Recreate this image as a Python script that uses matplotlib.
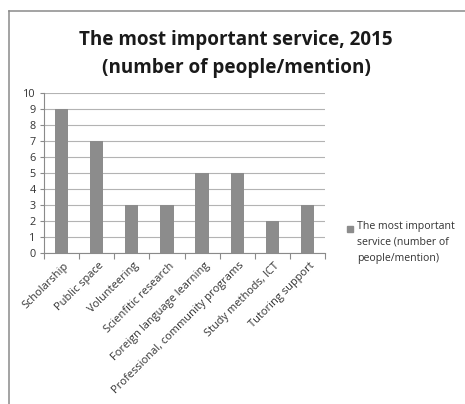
import numpy as np
import matplotlib.pyplot as plt
from matplotlib.lines import Line2D
from matplotlib.patches import Rectangle

# data
categories = ['Scholarship', 'Public space', 'Volunteering', 'Scienfitic research',
              'Foreign language learning', 'Professional, community programs',
              'Study methods, ICT', 'Tutoring support']
values = [9, 7, 3, 3, 5, 5, 2, 3]
y_ticks = list(range(0, 11))

W, H = 465, 404
fig = plt.figure(figsize=(W / 100, H / 100), dpi=100)
plt.rcParams['font.family'] = ['Open Sans', 'DejaVu Sans']

# outer frame (extends past right/bottom)
fig.add_artist(Line2D([9 / W, 1], [1 - 11 / H, 1 - 11 / H], color='#8a8a8a', lw=1.1))
fig.add_artist(Line2D([9 / W, 9 / W], [0, 1 - 11 / H], color='#8a8a8a', lw=1.1))

fig.text(236 / W, 1 - 40 / H, 'The most important service, 2015', ha='center', va='center',
         fontsize=13.6, fontweight='bold', color='#1a1a1a')
fig.text(236 / W, 1 - 68 / H, '(number of people/mention)', ha='center', va='center',
         fontsize=13.6, fontweight='bold', color='#1a1a1a')

ax = fig.add_axes([44 / W, 1 - 253 / H, (325 - 44) / W, (253 - 93) / H])
x = np.arange(len(categories))
ax.bar(x, values, width=0.38, color='#8c8c8c', zorder=3)
ax.set_xlim(-0.5, len(categories) - 0.5)
ax.set_ylim(0, 10)
ax.set_yticks(y_ticks)
ax.yaxis.grid(True, color='#b3b3b3', lw=0.8, zorder=0)
for s in ['top', 'right']:
    ax.spines[s].set_visible(False)
for s in ['left', 'bottom']:
    ax.spines[s].set_color('#8a8a8a')
ax.tick_params(axis='y', labelsize=7.8, colors='#8a8a8a', labelcolor='#333333', length=3, pad=3)
ax.set_xticks(np.arange(len(categories) + 1) - 0.5)
ax.set_xticklabels([])
ax.tick_params(axis='x', colors='#8a8a8a', length=4)
for i, c in enumerate(categories):
    ax.annotate(c, xy=(i, 0), xycoords=('data', 'axes fraction'), xytext=(4, -8),
                textcoords='offset points', rotation=45, rotation_mode='anchor',
                ha='right', va='center', fontsize=7.9, color='#333333')

# legend
fig.add_artist(Rectangle((347 / W, 1 - 232 / H), 6 / W, 6 / H, color='#8c8c8c'))
fig.text(357 / W, 1 - 221 / H, 'The most important\nservice (number of\npeople/mention)',
         ha='left', va='top', fontsize=7.6, color='#333333', linespacing=1.6,
         transform=fig.transFigure)

fig.savefig('out.png', dpi=100)
